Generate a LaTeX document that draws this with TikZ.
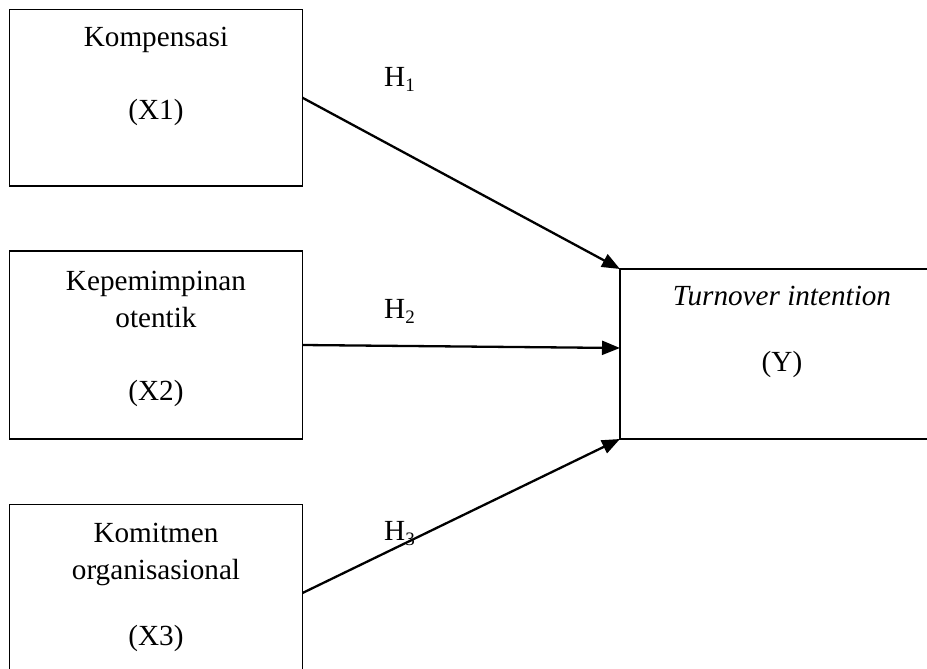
\documentclass[tikz,border=0pt]{standalone}
\usepackage{fontspec}
\setmainfont{Liberation Serif}
\usetikzlibrary{arrows.meta,calc}
\begin{document}
\begin{tikzpicture}[x=1pt,y=-1pt,
  box/.style={draw, line width=1.8pt, rectangle, inner sep=0pt, outer sep=0pt, anchor=north west},
  lbl/.style={font=\fontsize{29.2}{36}\selectfont, inner sep=0pt, anchor=base},
  hlbl/.style={font=\fontsize{29.2}{36}\selectfont, inner sep=0pt, anchor=base west},
  conn/.style={line width=2.3pt, -{Triangle[length=18pt,width=14pt]}}]
\useasboundingbox (0,0) rectangle (927,669);
\clip (0,0) rectangle (927,669);
% boxes
\node[box, minimum width=293pt, minimum height=176.5pt] (x1) at (9.5,9.5) {};
\node[box, minimum width=293pt, minimum height=188pt] (x2) at (9.5,251) {};
\node[box, minimum width=293pt, minimum height=177pt] (x3) at (9.5,504.5) {};
\node[box, minimum width=324pt, minimum height=170pt] (y) at (620,269) {};
% texts
\node[lbl] (t11) at (156,46.7) {Kompensasi};
\node[lbl] (t12) at (156,120) {(X1)};
\node[lbl] (t21) at (156,290) {Kepemimpinan};
\node[lbl] (t22) at (156,327) {otentik};
\node[lbl] (t23) at (156,400) {(X2)};
\node[lbl] (t31) at (156,542) {Komitmen};
\node[lbl] (t32) at (156,579) {organisasional};
\node[lbl] (t33) at (156,645) {(X3)};
\node[lbl] (ty1) at (782,305) {\itshape Turnover intention};
\node[lbl] (ty2) at (782,371.5) {(Y)};
% hypothesis labels
\node[hlbl] (h1) at (384,87) {H\raisebox{-5pt}{\fontsize{19}{20}\selectfont 1}};
\node[hlbl] (h2) at (384,318) {H\raisebox{-5pt}{\fontsize{19}{20}\selectfont 2}};
\node[hlbl] (h3) at (384,540) {H\raisebox{-5pt}{\fontsize{19}{20}\selectfont 3}};
% connectors
\coordinate (ymid) at ($(y.west)+(0,-6)$);
\draw[conn] (x1.east) -- (y.north west);
\draw[conn] (x2.east) -- (ymid);
\draw[conn] (x3.east) -- (y.south west);
\end{tikzpicture}
\end{document}
